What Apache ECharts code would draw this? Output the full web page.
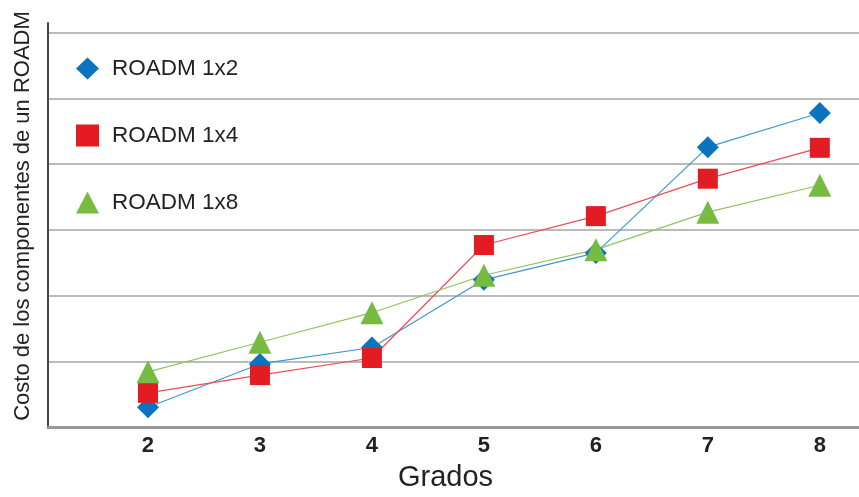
<!DOCTYPE html>
<html lang="es" style="height: 100%">
<head>
  <meta charset="utf-8">
</head>
<body style="height: 100%; margin: 0; background: #fff">
  <div id="container" style="width: 859px; height: 497px"></div>

  <script type="text/javascript" src="https://cdn.jsdelivr.net/npm/echarts@6/dist/echarts.min.js"></script>

  <script type="text/javascript">
    var grados = [2, 3, 4, 5, 6, 7, 8];
    var roadm1x2 = [0.3, 0.96, 1.21, 2.24, 2.65, 4.26, 4.78];
    var roadm1x4 = [0.52, 0.79, 1.05, 2.77, 3.21, 3.78, 4.25];
    var roadm1x8 = [0.84, 1.29, 1.74, 2.31, 2.7, 3.27, 3.68];

    function pairs(values) {
      return grados.map(function (g, i) { return [g, values[i]]; });
    }

    var font = 'Liberation Sans, Arial, sans-serif';
    var myChart = echarts.init(document.getElementById('container'), null, { renderer: 'canvas' });

    var option = {
      animation: false,
      grid: { left: 48, right: 0, top: 23, bottom: 70 },
      legend: {
        orient: 'vertical',
        left: 71,
        top: 52,
        itemWidth: 23,
        itemHeight: 22,
        itemGap: 44,
        textStyle: { fontFamily: font, fontSize: 22.5, color: '#222', padding: [0, 0, 0, 8] },
        data: [
          { name: 'ROADM 1x2', icon: 'diamond' },
          { name: 'ROADM 1x4', icon: 'rect' },
          { name: 'ROADM 1x8', icon: 'triangle' }
        ]
      },
      xAxis: {
        type: 'value',
        min: 1.107,
        max: 8.35,
        name: 'Grados',
        nameLocation: 'middle',
        nameGap: 36,
        nameTextStyle: { fontFamily: font, fontSize: 29, color: '#222', padding: [0, 16, 0, 0] },
        axisLine: { show: true, lineStyle: { color: '#999', width: 3 } },
        axisTick: { show: false },
        splitLine: { show: false },
        axisLabel: {
          customValues: grados,
          margin: 8,
          fontFamily: font,
          fontSize: 22,
          fontWeight: 'bold',
          color: '#222'
        }
      },
      yAxis: {
        type: 'value',
        min: 0,
        max: 6.15,
        interval: 1,
        name: 'Costo de los componentes de un ROADM',
        nameLocation: 'middle',
        nameGap: 14,
        nameTextStyle: { fontFamily: font, fontSize: 22, color: '#222', padding: [0, 0, 0, 18] },
        axisLine: { show: true, lineStyle: { color: '#444', width: 2 } },
        axisTick: { show: false },
        axisLabel: { show: false },
        splitLine: { show: true, showMinLine: false, showMaxLine: false, lineStyle: { color: '#bbb', width: 2 } }
      },
      series: [
        {
          name: 'ROADM 1x2',
          type: 'line',
          data: pairs(roadm1x2),
          symbol: 'diamond',
          symbolSize: 22,
          itemStyle: { color: '#0a74bf' },
          lineStyle: { color: '#3d97d3', width: 1.2 }
        },
        {
          name: 'ROADM 1x4',
          type: 'line',
          data: pairs(roadm1x4),
          symbol: 'rect',
          symbolSize: 20,
          itemStyle: { color: '#e31b23' },
          lineStyle: { color: '#ec4d55', width: 1.2 }
        },
        {
          name: 'ROADM 1x8',
          type: 'line',
          data: pairs(roadm1x8),
          symbol: 'triangle',
          symbolSize: 23,
          itemStyle: { color: '#78bb42' },
          lineStyle: { color: '#8cc65e', width: 1.2 }
        }
      ]
    };

    myChart.setOption(option);
    window.addEventListener('resize', myChart.resize);
  </script>
</body>
</html>
